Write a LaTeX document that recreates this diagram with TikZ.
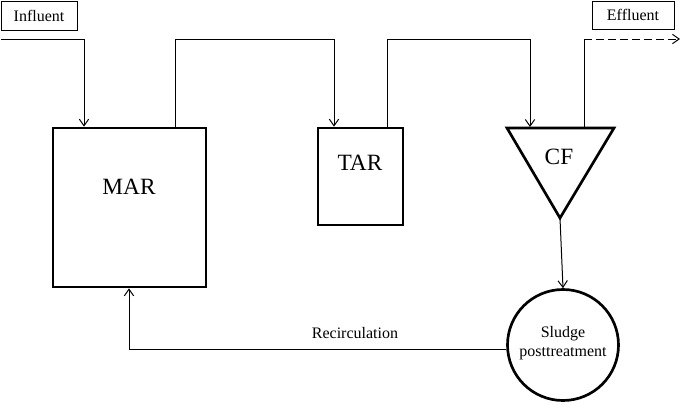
\documentclass[tikz,border=0pt]{standalone}
\usepackage{fontspec}
\setmainfont{Liberation Serif}
\usetikzlibrary{arrows.meta}
\begin{document}
\begin{tikzpicture}[x=0.75pt,y=-0.75pt,
  conn/.style={line width=0.75pt,-{Straight Barb[length=5pt,width=7pt,line width=0.75pt]}},
  plain/.style={line width=0.75pt},
  tagbox/.style={draw,line width=0.75pt,inner sep=0pt,font=\fontsize{12}{14}\selectfont},
  unit/.style={draw,line width=2pt,inner sep=0pt},
  biglabel/.style={font=\fontsize{17.5}{20}\selectfont},
  smalllabel/.style={font=\fontsize{12}{14}\selectfont}]
\useasboundingbox (0,0) rectangle (690,405);
% labels
\node[tagbox,minimum width={76*0.75pt},minimum height={29*0.75pt}] (influent) at (39,15.5) {Influent};
\node[tagbox,minimum width={82*0.75pt},minimum height={28*0.75pt}] (effluent) at (633,15) {Effluent};
% units
\node[unit,minimum width={153*0.75pt},minimum height={159*0.75pt}] (MAR) at (129.5,207.5) {};
\node[biglabel] (MARt) at (129,187) {MAR};
\node[unit,minimum width={85*0.75pt},minimum height={97*0.75pt}] (TAR) at (360.5,176.5) {};
\node[biglabel] (TARt) at (360,163) {TAR};
\coordinate (cfl) at (507,128);
\coordinate (cfr) at (614,128);
\coordinate (cfa) at (560,218);
\draw[line width=2pt,line join=miter] (cfl) -- (cfr) -- (cfa) -- cycle;
\node[biglabel] (CFt) at (559,157) {CF};
\node[unit,circle,minimum size={111*0.75pt}] (SP) at (563,345) {};
\node[smalllabel,align=center] (SPt) at (563,343) {Sludge\\[0pt]posttreatment};
% connectors
\coordinate (inA) at (1,39);
\draw[conn] (inA) -| (84,0 |- MAR.north);
\draw[conn] (175,0 |- MAR.north) -- (175,39) -| (334,0 |- TAR.north);
\draw[conn] (387,0 |- TAR.north) -- (387,39) -| (530,127);
\coordinate (effEnd) at (680,39);
\draw[plain] (584,127) -- (584,39);
\draw[conn,dash pattern=on 6pt off 3pt] (584,39) -- (effEnd);
\draw[conn] (cfa) -- (SP.north);
\draw[conn] (SP.west |- 0,349) -| (129,0 |- MAR.south);
\node[smalllabel] (rec) at (355,333) {Recirculation};
\end{tikzpicture}
\end{document}
